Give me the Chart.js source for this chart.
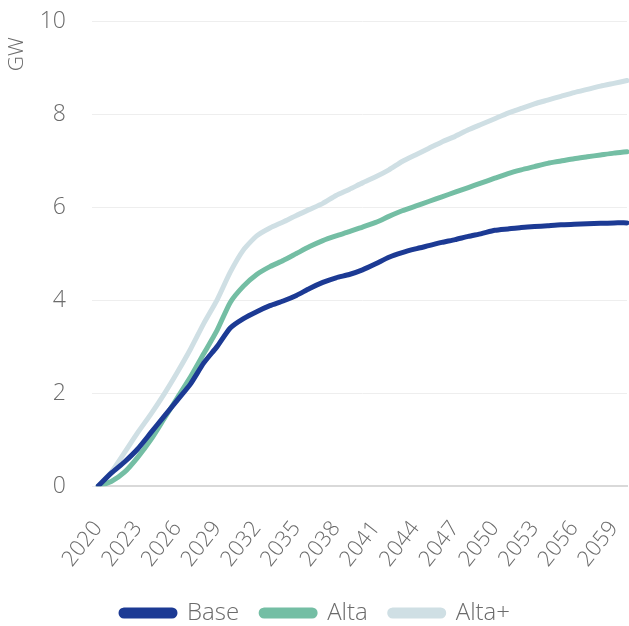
<!DOCTYPE html>
<html>
<head>
<meta charset="utf-8">
<script src="https://cdn.jsdelivr.net/npm/chart.js@4/dist/chart.umd.min.js"></script>
<style>
  html, body { margin: 0; padding: 0; background: #fff; }
  #wrap { width: 629px; height: 626px; }
</style>
</head>
<body>
<div id="wrap"><canvas id="chart"></canvas></div>
<script>
// years 2020..2060
const years = []
for (let y = 2020; y <= 2060; y++) years.push(String(y))

const base = [0, 0.28, 0.52, 0.8, 1.15, 1.5, 1.85, 2.2, 2.65, 3.0,
  3.4, 3.6, 3.75, 3.88, 3.98, 4.1, 4.25, 4.38, 4.48, 4.55,
  4.65, 4.78, 4.92, 5.02, 5.1, 5.17, 5.24, 5.3, 5.37, 5.43,
  5.5, 5.53, 5.56, 5.58, 5.6, 5.62, 5.63, 5.64, 5.65, 5.66, 5.66]

const alta = [0, 0.1, 0.3, 0.62, 1.0, 1.45, 1.9, 2.35, 2.85, 3.35,
  3.95, 4.3, 4.55, 4.72, 4.85, 5.0, 5.15, 5.28, 5.38, 5.47,
  5.57, 5.67, 5.8, 5.92, 6.02, 6.12, 6.22, 6.32, 6.42, 6.52,
  6.62, 6.72, 6.8, 6.87, 6.94, 6.99, 7.04, 7.08, 7.12, 7.16, 7.19]

const altaPlus = [0, 0.3, 0.72, 1.15, 1.55, 1.98, 2.45, 2.95, 3.5, 4.0,
  4.6, 5.08, 5.38, 5.55, 5.68, 5.82, 5.95, 6.08, 6.25, 6.38,
  6.52, 6.65, 6.8, 6.98, 7.12, 7.26, 7.4, 7.52, 7.66, 7.78,
  7.9, 8.02, 8.12, 8.22, 8.3, 8.38, 8.46, 8.53, 8.6, 8.66, 8.72]

const seriesNames = ['Base', 'Alta', 'Alta+']
const colors = ['#1c3a94', '#74bea4', '#cfdfe4']

const fontFamily = "'Open Sans', Lato, sans-serif"
const textColor = '#6b6b6b'

const ctx = document.getElementById('chart').getContext('2d')
new Chart(ctx, {
  type: 'line',
  data: {
    labels: years,
    datasets: [base, alta, altaPlus].map((d, i) => ({
      label: seriesNames[i],
      data: d,
      borderColor: colors[i],
      backgroundColor: colors[i],
      borderWidth: 5,
      pointRadius: 0,
      tension: 0.2,
      borderCapStyle: 'round',
      borderJoinStyle: 'round'
    }))
  },
  options: {
    responsive: true,
    maintainAspectRatio: false,
    animation: false,
    layout: { padding: { top: 0, right: 2, bottom: -9, left: 4 } },
    plugins: {
      tooltip: { enabled: false },
      legend: {
        position: 'bottom',
        labels: {
          boxWidth: 54,
          boxHeight: 6,
          useBorderRadius: true,
          borderRadius: 3,
          padding: 22,
          color: textColor,
          font: { family: fontFamily, size: 24, weight: '300' }
        }
      }
    },
    scales: {
      x: {
        grid: { display: false, drawTicks: false },
        border: { color: '#d9d9d9', width: 2 },
        afterFit: s => { s.paddingRight = 0; s.paddingLeft = 0; s.height -= 23 },
        ticks: {
          color: textColor,
          font: { family: fontFamily, size: 22, weight: '300' },
          minRotation: 52,
          maxRotation: 52,
          autoSkip: false,
          padding: 30,
          callback: function (val, idx) {
            return idx % 3 === 0 ? this.getLabelForValue(val) : null
          }
        }
      },
      y: {
        min: 0,
        max: 10,
        grid: { color: '#eeeeee', tickLength: 6, lineWidth: 1 },
        border: { display: false },
        afterFit: s => { s.paddingTop = 21; s.paddingBottom = 0; s.width = 94 },
        ticks: {
          stepSize: 2,
          color: textColor,
          padding: 26,
          font: { family: fontFamily, size: 23, weight: '300' }
        },
        title: {
          display: true,
          text: 'GW   ',
          align: 'end',
          color: textColor,
          font: { family: fontFamily, size: 21, weight: '300' },
          padding: { top: 0, bottom: 12 }
        }
      }
    }
  }
})
</script>
</body>
</html>
